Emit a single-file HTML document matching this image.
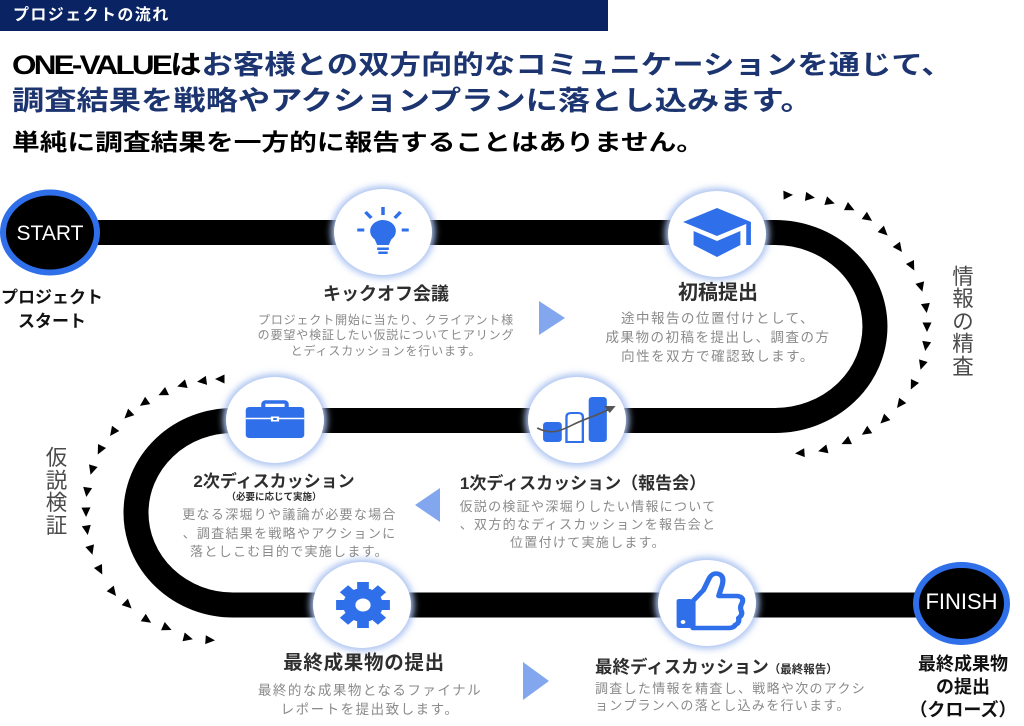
<!DOCTYPE html>
<html lang="ja">
<head>
<meta charset="utf-8">
<style>
  html,body{margin:0;padding:0;background:#fff;}
  body{width:1024px;height:726px;position:relative;overflow:hidden;
       font-family:"Liberation Sans","Noto Sans CJK JP",sans-serif;}
  .t{position:absolute;white-space:nowrap;font-family:"Liberation Sans","Noto Sans CJK JP",sans-serif;}
  .c{text-align:center;width:400px;}
  .ttl{font-weight:700;color:#2e2e2e;}
  .desc{color:#8a8a8a;}
  .vert{color:#4a4a4a;text-align:center;width:40px;}
</style>
</head>
<body>

<svg width="1024" height="726" viewBox="0 0 1024 726" style="position:absolute;left:0;top:0">
  <defs>
    <filter id="g" x="-40%" y="-40%" width="180%" height="180%"><feGaussianBlur stdDeviation="3.5"/></filter>
  </defs>

  <!-- header bar -->
  <rect x="0" y="0" width="608" height="31" fill="#0a2463"/>

  <!-- road -->
  <path d="M50 232.5H775A100 94 0 0 1 775 420.5H233A97 92.25 0 0 0 233 605H960" fill="none" stroke="#000" stroke-width="25"/>

  <!-- right dotted arrows -->
  <g fill="#000">
    <path transform="translate(788,195) rotate(-2)" d="M-4.5,-4.5L5,0L-4.5,4.5Z"/>
    <path transform="translate(810,197) rotate(8)" d="M-4.5,-4.5L5,0L-4.5,4.5Z"/>
    <path transform="translate(830,202) rotate(17)" d="M-4.5,-4.5L5,0L-4.5,4.5Z"/>
    <path transform="translate(850,208) rotate(26)" d="M-4.5,-4.5L5,0L-4.5,4.5Z"/>
    <path transform="translate(868,218) rotate(35)" d="M-4.5,-4.5L5,0L-4.5,4.5Z"/>
    <path transform="translate(884,232) rotate(44)" d="M-4.5,-4.5L5,0L-4.5,4.5Z"/>
    <path transform="translate(899,248) rotate(54)" d="M-4.5,-4.5L5,0L-4.5,4.5Z"/>
    <path transform="translate(912,266) rotate(63)" d="M-4.5,-4.5L5,0L-4.5,4.5Z"/>
    <path transform="translate(921,287) rotate(74)" d="M-4.5,-4.5L5,0L-4.5,4.5Z"/>
    <path transform="translate(926,308) rotate(82)" d="M-4.5,-4.5L5,0L-4.5,4.5Z"/>
    <path transform="translate(927,327) rotate(90)" d="M-4.5,-4.5L5,0L-4.5,4.5Z"/>
    <path transform="translate(926,346) rotate(99)" d="M-4.5,-4.5L5,0L-4.5,4.5Z"/>
    <path transform="translate(922,365) rotate(107)" d="M-4.5,-4.5L5,0L-4.5,4.5Z"/>
    <path transform="translate(913,385) rotate(116)" d="M-4.5,-4.5L5,0L-4.5,4.5Z"/>
    <path transform="translate(900,404) rotate(127)" d="M-4.5,-4.5L5,0L-4.5,4.5Z"/>
    <path transform="translate(884,420) rotate(136)" d="M-4.5,-4.5L5,0L-4.5,4.5Z"/>
    <path transform="translate(866,432) rotate(146)" d="M-4.5,-4.5L5,0L-4.5,4.5Z"/>
    <path transform="translate(846,442) rotate(155)" d="M-4.5,-4.5L5,0L-4.5,4.5Z"/>
    <path transform="translate(823,450) rotate(166)" d="M-4.5,-4.5L5,0L-4.5,4.5Z"/>
    <path transform="translate(800,453) rotate(176)" d="M-4.5,-4.5L5,0L-4.5,4.5Z"/>
  </g>

  <!-- left dotted arrows -->
  <g fill="#000">
    <path transform="translate(220,379) rotate(180)" d="M-4.5,-4.5L5,0L-4.5,4.5Z"/>
    <path transform="translate(202,381) rotate(172)" d="M-4.5,-4.5L5,0L-4.5,4.5Z"/>
    <path transform="translate(182,385) rotate(163)" d="M-4.5,-4.5L5,0L-4.5,4.5Z"/>
    <path transform="translate(163,393) rotate(154)" d="M-4.5,-4.5L5,0L-4.5,4.5Z"/>
    <path transform="translate(144,403) rotate(145)" d="M-4.5,-4.5L5,0L-4.5,4.5Z"/>
    <path transform="translate(128,415) rotate(136)" d="M-4.5,-4.5L5,0L-4.5,4.5Z"/>
    <path transform="translate(113,432) rotate(126)" d="M-4.5,-4.5L5,0L-4.5,4.5Z"/>
    <path transform="translate(100,450) rotate(117)" d="M-4.5,-4.5L5,0L-4.5,4.5Z"/>
    <path transform="translate(92,470) rotate(107)" d="M-4.5,-4.5L5,0L-4.5,4.5Z"/>
    <path transform="translate(87,492) rotate(98)" d="M-4.5,-4.5L5,0L-4.5,4.5Z"/>
    <path transform="translate(86,512) rotate(89)" d="M-4.5,-4.5L5,0L-4.5,4.5Z"/>
    <path transform="translate(87,530) rotate(81)" d="M-4.5,-4.5L5,0L-4.5,4.5Z"/>
    <path transform="translate(91,550) rotate(73)" d="M-4.5,-4.5L5,0L-4.5,4.5Z"/>
    <path transform="translate(100,570) rotate(63)" d="M-4.5,-4.5L5,0L-4.5,4.5Z"/>
    <path transform="translate(113,592) rotate(52)" d="M-4.5,-4.5L5,0L-4.5,4.5Z"/>
    <path transform="translate(128,605) rotate(44)" d="M-4.5,-4.5L5,0L-4.5,4.5Z"/>
    <path transform="translate(147,620) rotate(34)" d="M-4.5,-4.5L5,0L-4.5,4.5Z"/>
    <path transform="translate(167,628) rotate(24)" d="M-4.5,-4.5L5,0L-4.5,4.5Z"/>
    <path transform="translate(188,638) rotate(14)" d="M-4.5,-4.5L5,0L-4.5,4.5Z"/>
    <path transform="translate(210,640) rotate(4)" d="M-4.5,-4.5L5,0L-4.5,4.5Z"/>
  </g>

  <!-- light blue direction triangles -->
  <polygon points="539,301 539,335 565,318" fill="#82a7ef"/>
  <polygon points="440,488 440,522 415,505" fill="#82a7ef"/>
  <polygon points="523,662 523,700 549,681" fill="#82a7ef"/>

  <!-- START / FINISH -->
  <ellipse cx="50" cy="232.5" rx="47" ry="40" fill="#000" stroke="#2f6fe9" stroke-width="6"/>
  <ellipse cx="961.5" cy="603.5" rx="45.5" ry="38.5" fill="#000" stroke="#2f6fe9" stroke-width="6"/>

  <!-- icon circles (glow + white) -->
  <g>
    <ellipse cx="383" cy="232" rx="52" ry="46" fill="#a9c1f0" filter="url(#g)"/>
    <ellipse cx="383" cy="232" rx="49" ry="43" fill="#fff"/>
    <ellipse cx="717" cy="234" rx="52" ry="46" fill="#a9c1f0" filter="url(#g)"/>
    <ellipse cx="717" cy="234" rx="49" ry="43" fill="#fff"/>
    <ellipse cx="577" cy="420" rx="52" ry="46" fill="#a9c1f0" filter="url(#g)"/>
    <ellipse cx="577" cy="420" rx="49" ry="43" fill="#fff"/>
    <ellipse cx="275" cy="420" rx="52" ry="46" fill="#a9c1f0" filter="url(#g)"/>
    <ellipse cx="275" cy="420" rx="49" ry="43" fill="#fff"/>
    <ellipse cx="362" cy="605" rx="52" ry="46" fill="#a9c1f0" filter="url(#g)"/>
    <ellipse cx="362" cy="605" rx="49" ry="43" fill="#fff"/>
    <ellipse cx="707" cy="603" rx="52" ry="46" fill="#a9c1f0" filter="url(#g)"/>
    <ellipse cx="707" cy="603" rx="49" ry="43" fill="#fff"/>
  </g>

  <!-- lightbulb -->
  <g transform="translate(383,232) scale(1.17,1)" fill="#2f6fe9" stroke="#2f6fe9">
    <circle cx="0" cy="-1" r="11" stroke="none"/>
    <path d="M-8,5 L-5,13 L5,13 L8,5 Z" stroke="none"/>
    <rect x="-5" y="15.5" width="10" height="2.5" stroke="none"/>
    <rect x="-4" y="19.5" width="8" height="2.5" stroke="none"/>
    <g stroke-width="3" stroke-linecap="butt" fill="none">
      <line x1="0" y1="-25" x2="0" y2="-17"/>
      <line x1="-15" y1="-20" x2="-10" y2="-14"/>
      <line x1="15" y1="-20" x2="10" y2="-14"/>
      <line x1="-22" y1="-2" x2="-16" y2="-2"/>
      <line x1="22" y1="-2" x2="16" y2="-2"/>
    </g>
  </g>

  <!-- graduation cap -->
  <g transform="translate(717,233) scale(1.17,1)" fill="#2f6fe9">
    <polygon points="0,-25 29,-11 0,3 -29,-11"/>
    <polygon points="-20,-2 0,8 20,-2 20,12 0,24 -20,12"/>
    <rect x="25" y="-11" width="4" height="23"/>
  </g>

  <!-- chart -->
  <g transform="translate(577,420) scale(1.17,1)">
    <rect x="-29" y="2" width="16" height="20" rx="3" fill="#2f6fe9"/>
    <path d="M-9,22 V-3 Q-9,-7 -5,-7 H1 Q5,-7 5,-3 V22 Z" fill="#fff" stroke="#2f6fe9" stroke-width="2"/>
    <rect x="10" y="-23" width="15.5" height="45" rx="3" fill="#2f6fe9"/>
    <path d="M-34,8 C-22,15 -14,11 -4,5 S16,-4 28,-11" fill="none" stroke="#555" stroke-width="1.6"/>
    <polygon points="33,-14 23,-14 28,-7" fill="#555"/>
  </g>

  <!-- briefcase -->
  <g transform="translate(275,420) scale(1.17,1)">
    <rect x="-10" y="-18" width="20" height="8" rx="2" fill="none" stroke="#2f6fe9" stroke-width="3.5"/>
    <rect x="-25" y="-13" width="50" height="31" rx="3" fill="#2f6fe9"/>
    <line x1="-25" y1="-1.5" x2="25" y2="-1.5" stroke="#fff" stroke-width="1.5"/>
    <rect x="-3.5" y="-3.5" width="7" height="5" fill="#fff"/>
    <rect x="-1.5" y="-2" width="3" height="2" fill="#2f6fe9"/>
  </g>

  <!-- gear -->
  <g transform="translate(363,605) scale(1.17,1)" fill="#2f6fe9">
    <circle r="17"/>
    <rect x="-5" y="-23" width="10" height="9" transform="rotate(0)"/>
    <rect x="-5" y="-23" width="10" height="9" transform="rotate(45)"/>
    <rect x="-5" y="-23" width="10" height="9" transform="rotate(90)"/>
    <rect x="-5" y="-23" width="10" height="9" transform="rotate(135)"/>
    <rect x="-5" y="-23" width="10" height="9" transform="rotate(180)"/>
    <rect x="-5" y="-23" width="10" height="9" transform="rotate(225)"/>
    <rect x="-5" y="-23" width="10" height="9" transform="rotate(270)"/>
    <rect x="-5" y="-23" width="10" height="9" transform="rotate(315)"/>
    <circle r="6.5" fill="#fff"/>
  </g>

  <!-- thumbs up -->
  <g transform="translate(707,603) scale(1.17,1)">
    <path d="M-12,-2 L-3,-13 L2,-25 Q5,-31 10,-29 Q15,-27 13,-18 L10,-7 L26,-7 Q32,-6 30,0 Q28,4 29,7 Q31,12 27,15 Q28,20 24,22 Q23,25 18,25 L-12,25 Z"
          fill="#fff" stroke="#2f6fe9" stroke-width="4.5" stroke-linejoin="round"/>
    <rect x="-26" y="-4" width="13" height="29" rx="2" fill="#2f6fe9"/>
    <circle cx="-20.5" cy="19" r="2" fill="#fff"/>
  </g>
</svg>

<!-- header -->
<div class="t" style="left:13px;top:7.5px;font-size:16px;line-height:16px;letter-spacing:1.4px;color:#fff;font-weight:700;">プロジェクトの流れ</div>

<!-- title lines -->
<div class="t" style="left:12px;top:49.8px;font-size:26.5px;line-height:30px;font-weight:700;transform:scaleX(1.185);transform-origin:0 0;"><span style="color:#000;letter-spacing:-2.3px;">ONE-VALUE</span><span style="color:#000;">は</span><span style="color:#1c3570;">お客様との双方向的なコミュニケーションを通じて、</span></div>
<div class="t" style="left:12px;top:85.8px;font-size:27px;line-height:30px;font-weight:700;color:#1c3570;transform:scaleX(1.195);transform-origin:0 0;">調査結果を戦略やアクションプランに落とし込みます。</div>
<div class="t" style="left:12px;top:127.7px;font-size:23px;line-height:28px;font-weight:700;color:#000;transform:scaleX(1.205);transform-origin:0 0;">単純に調査結果を一方的に報告することはありません。</div>

<!-- START / FINISH text -->
<div class="t" style="left:0;width:100px;text-align:center;top:223px;font-size:21px;line-height:21px;color:#fff;">START</div>
<div class="t" style="left:911.5px;width:100px;text-align:center;top:591px;font-size:22px;line-height:22px;color:#fff;">FINISH</div>

<!-- start label -->
<div class="t c" style="left:-148px;top:286px;font-size:17px;line-height:23.5px;font-weight:700;color:#111;">プロジェクト<br>スタート</div>

<!-- kickoff -->
<div class="t c ttl" style="left:186px;top:285px;font-size:18px;line-height:18px;">キックオフ会議</div>
<div class="t c desc" style="left:186px;top:312.6px;font-size:12px;line-height:15.5px;letter-spacing:0.85px;">プロジェクト開始に当たり、クライアント様<br>の要望や検証したい仮説についてヒアリング<br>とディスカッションを行います。</div>

<!-- 初稿提出 -->
<div class="t c ttl" style="left:518px;top:282.6px;font-size:20px;line-height:20px;">初稿提出</div>
<div class="t c desc" style="left:518px;top:308.9px;font-size:13.5px;line-height:19px;letter-spacing:1.5px;">途中報告の位置付けとして、<br>成果物の初稿を提出し、調査の方<br>向性を双方で確認致します。</div>

<!-- 情報の精査 -->
<div class="t vert" style="left:943px;top:265.9px;font-size:21.5px;line-height:22.4px;">情<br>報<br>の<br>精<br>査</div>

<!-- 1次 -->
<div class="t c ttl" style="left:383px;top:474.5px;font-size:17px;line-height:17px;">1次ディスカッション（報告会）</div>
<div class="t c desc" style="left:388px;top:498.4px;font-size:13px;line-height:18px;letter-spacing:1.3px;">仮説の検証や深堀りしたい情報について<br>、双方的なディスカッションを報告会と<br>位置付けて実施します。</div>

<!-- 2次 -->
<div class="t c ttl" style="left:74px;top:472.5px;font-size:17px;line-height:17px;">2次ディスカッション</div>
<div class="t c ttl" style="left:74px;top:492.8px;font-size:9.5px;line-height:10px;">（必要に応じて実施）</div>
<div class="t c desc" style="left:89.5px;top:506.2px;font-size:13px;line-height:18.5px;letter-spacing:1.3px;">更なる深堀りや議論が必要な場合<br>、調査結果を戦略やアクションに<br>落としこむ目的で実施します。</div>

<!-- 仮説検証 -->
<div class="t vert" style="left:36.5px;top:447.4px;font-size:21.5px;line-height:22.5px;">仮<br>説<br>検<br>証</div>

<!-- 最終成果物の提出 -->
<div class="t c ttl" style="left:164px;top:654.4px;font-size:19.5px;line-height:19.5px;letter-spacing:0.7px;">最終成果物の提出</div>
<div class="t c desc" style="left:170px;top:682.2px;font-size:13.5px;line-height:18.5px;letter-spacing:1.5px;">最終的な成果物となるファイナル<br>レポートを提出致します。</div>

<!-- 最終ディスカッション -->
<div class="t ttl" style="left:595px;top:659.3px;font-size:17.5px;line-height:17.5px;">最終ディスカッション<span style="font-size:11.5px;">（最終報告）</span></div>
<div class="t desc" style="left:595px;top:679.6px;font-size:13px;line-height:17.75px;letter-spacing:1.3px;">調査した情報を精査し、戦略や次のアクシ<br>ョンプランへの落とし込みを行います。</div>

<!-- finish label -->
<div class="t c" style="left:763px;top:653px;font-size:18px;line-height:23px;font-weight:700;color:#111;">最終成果物<br>の提出<br>（クローズ）</div>

</body>
</html>
